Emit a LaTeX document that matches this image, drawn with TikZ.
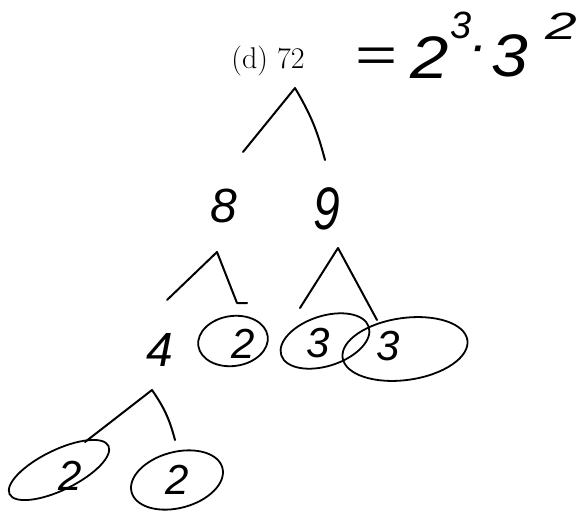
\documentclass[tikz,border=0pt]{standalone}
\usepackage{fontspec}
\newfontfamily\handfont{Liberation Sans}
\begin{document}
\begin{tikzpicture}[x=1pt,y=-1pt,
  hand/.style={inner sep=0pt,font=\fontsize{48}{52}\selectfont\handfont\itshape},
  handsmall/.style={inner sep=0pt,font=\fontsize{42}{46}\selectfont\handfont\itshape},
  handsup/.style={inner sep=0pt,font=\fontsize{38}{42}\selectfont\handfont\itshape},
  handbig/.style={inner sep=0pt,font=\fontsize{60}{64}\selectfont\handfont\itshape},
  printed/.style={inner sep=0pt,font=\fontsize{30}{34}\selectfont},
  leg/.style={line width=2pt,line cap=round,line join=round},
  ring/.style={line width=1.8pt}]
\useasboundingbox (0,0) rectangle (583,511);

% printed label and handwritten equation
\node[printed] (top) at (268,61) {(d) 72};
\node[hand,xscale=1.5] (eqsign) at (376,60) {=};
\node[handbig,xscale=1.15] (eqtwo) at (430,58) {2};
\node[handsup] (eqsupthree) at (461,25) {3};
\node[handsup] (eqdot) at (478,54) {\bfseries ·};
\node[handbig,xscale=1.1] (eqthree) at (510,56) {3};
\node[handsup,xscale=1.5] (eqsuptwo) at (561,26) {2};

% tree digits
\node[hand] (eight) at (224,206) {8};
\node[hand,yscale=1.25] (nine) at (327,209) {9};
\node[hand] (four) at (160,350) {4};
\node[handsmall] (twoA) at (243,344) {2};
\node[handsmall] (threeA) at (318,343) {3};
\node[handsmall] (threeB) at (388,346) {3};
\node[handsmall] (twoB) at (70,476) {2};
\node[handsmall] (twoC) at (177,480) {2};

% branch points and leg ends
\coordinate (a72) at (295,88);
\coordinate (l72) at (243,152);
\coordinate (r72) at (325,160);
\coordinate (a8) at (217,252);
\coordinate (l8) at (167,300);
\coordinate (r8) at (237,303);
\coordinate (h8) at (247,303);
\coordinate (a9) at (338,248);
\coordinate (l9) at (300,308);
\coordinate (r9) at (377,320);
\coordinate (a4) at (152,390);
\coordinate (l4) at (85,442);
\coordinate (r4) at (175,440);

\draw[leg] (l72) -- (a72) to[bend left=8] (r72);
\draw[leg] (l8) -- (a8) -- (r8) -- (h8);
\draw[leg] (l9) -- (a9) -- (r9);
\draw[leg] (l4) -- (a4) to[bend left=10] (r4);

% circles round the primes
\draw[ring,shift={(twoA)},shift={(-10,-3)},rotate=8] (0,0) ellipse [x radius=35,y radius=25];
\draw[ring,shift={(threeA)},shift={(7,-2)},rotate=18] (0,0) ellipse [x radius=46,y radius=25];
\draw[ring,shift={(threeB)},shift={(17,3)},rotate=8] (0,0) ellipse [x radius=63,y radius=31];
\draw[ring,shift={(twoB)},shift={(-11,-6)},rotate=26] (0,0) ellipse [x radius=55,y radius=20];
\draw[ring,shift={(twoC)},rotate=15] (0,0) ellipse [x radius=47,y radius=28];
\end{tikzpicture}
\end{document}
